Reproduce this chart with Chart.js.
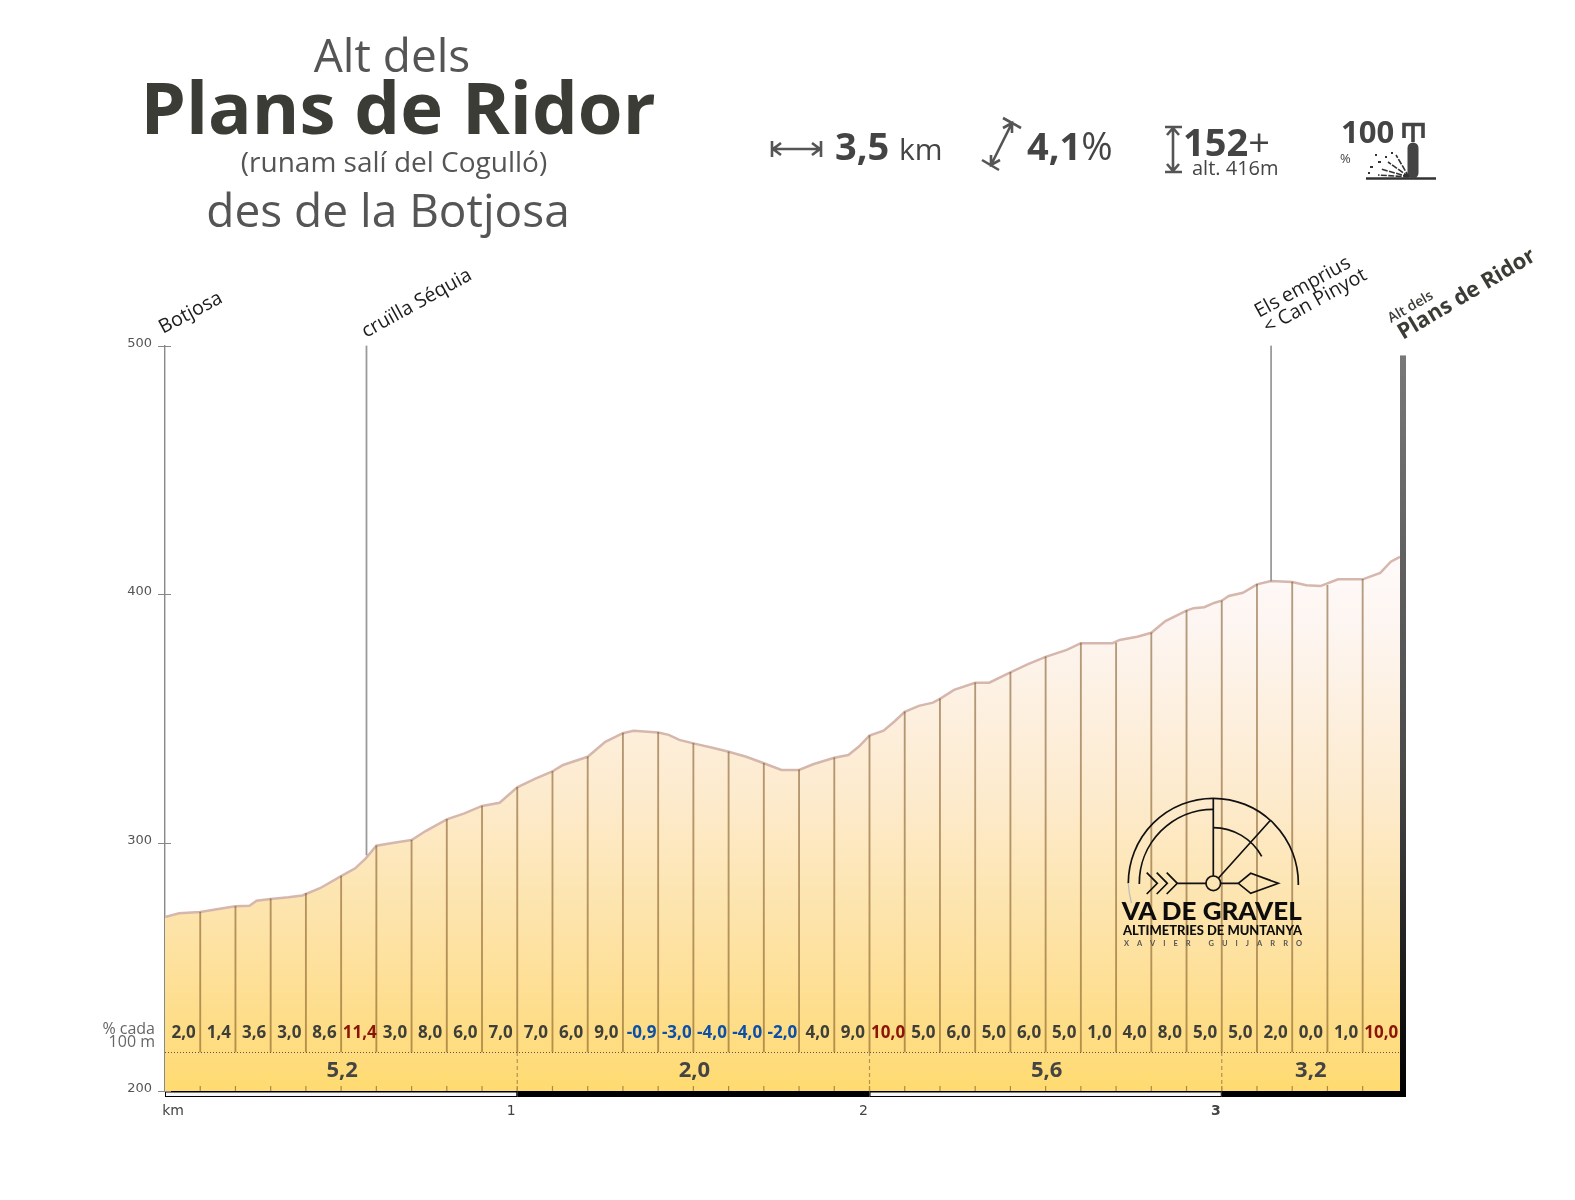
<!DOCTYPE html>
<html lang="ca">
<head>
<meta charset="utf-8">
<title>Alt dels Plans de Ridor</title>
<script src="https://cdn.jsdelivr.net/npm/chart.js@4/dist/chart.umd.min.js"></script>
<style>
    html, body { margin: 0; padding: 0; background: #fff; }
    #page { position: relative; width: 1575px; height: 1200px; overflow: hidden; }
    #profile { position: absolute; left: 0; top: 0; }
    #overlay { position: absolute; left: 0; top: 0; pointer-events: none; }
    #overlay text { font-family: "Open Sans", sans-serif; }
    .title { fill: #555; text-anchor: middle; }
    .strong { fill: #3c3c37; font-weight: 700; }
    .stat { fill: #444; }
    .place { fill: #1c1c1c; font-size: 19.7px; }
    .ico { stroke: #555; fill: none; stroke-width: 2.6; }
    .logo { stroke: #111; fill: none; stroke-width: 1.7; }
    #overlay .logotext { font-family: Lato, sans-serif; font-weight: 900; fill: #0d0d0d; }
</style>
</head>
<body>
<div id="page">
<canvas id="profile" width="1575" height="1200"></canvas>
<svg id="overlay" width="1575" height="1200" xmlns="http://www.w3.org/2000/svg">
    <!-- heading -->
    <text class="title" x="392" y="72" font-size="46">Alt dels</text>
    <text class="title strong" x="398" y="134" font-size="72.5">Plans de Ridor</text>
    <text class="title" x="394" y="172" font-size="28">(runam salí del Cogulló)</text>
    <text class="title" x="388" y="227" font-size="46">des de la Botjosa</text>

    <!-- distance -->
    <path class="ico" d="M772 141V157M821 141V157M773 149H820M781 143L773 149L781 155M812 143L820 149L812 155"/>
    <text class="stat strong" x="835" y="160" font-size="38">3,5</text>
    <text class="stat" x="899" y="160" font-size="30">km</text>
    <!-- gradient -->
    <path class="ico" d="M982 160L999 170M1003 118L1021 128M991 165L1012 123M991 155L991 165L1000 160M1003 128L1012 123L1012 133"/>
    <text class="stat strong" x="1027" y="160" font-size="38">4,1<tspan font-weight="400">%</tspan></text>
    <!-- climb -->
    <path class="ico" d="M1165 127H1182M1165 172H1182M1173 128V171M1167 135L1173 128L1179 135M1167 164L1173 171L1179 164"/>
    <text class="stat strong" x="1183" y="156" font-size="38">152<tspan font-weight="400">+</tspan></text>
    <text class="stat" x="1192" y="175" font-size="20">alt. 416m</text>
    <!-- surface -->
    <text class="stat strong" x="1341" y="143" font-size="31">100</text>
    <text class="stat" x="1340" y="163" font-size="13">%</text>
    <path d="M1366 178.5H1436" stroke="#333" stroke-width="2.4"/>
    <path d="M1413 173V148" stroke="#444" stroke-width="11" stroke-linecap="round"/>
    <path d="M1404 138V124.5H1423V138M1413 124V142" stroke="#444" stroke-width="3.6" fill="none"/>
    <path d="M1409 177L1396 155M1409 177L1388 162M1409 177L1381 169M1409 177L1378 175" stroke="#333" stroke-width="1.6" stroke-dasharray="6 1.4" fill="none"/>
    <path d="M1391 153h2M1385 157h2M1378 162h3M1370 167h3M1368 173h2M1375 155h2" stroke="#333" stroke-width="2.2"/>

    <!-- place names over the profile -->
    <text class="place" transform="translate(163,334) rotate(-28)">Botjosa</text>
    <text class="place" transform="translate(366,338) rotate(-29)">cruïlla Séquia</text>
    <text class="place" transform="translate(1259,318) rotate(-29)">Els emprius</text>
    <text class="place" transform="translate(1268,334) rotate(-29)">&lt; Can Pinyot</text>
    <text class="place" transform="translate(1391,323) rotate(-30)" style="font-size:14px;font-weight:600;fill:#3c3c37">Alt dels</text>
    <text class="place strong" transform="translate(1403,340) rotate(-31)" style="font-size:22px;font-weight:700;fill:#3c3c37">Plans de Ridor</text>

    <!-- % cada 100 m -->
    <text x="155" y="1034" font-size="16" fill="#666" text-anchor="end">% cada</text>
    <text x="155" y="1047" font-size="16" fill="#666" text-anchor="end">100 m</text>

    <!-- logo -->
    <path class="logo" d="M1298.3 885A85 85 0 0 0 1213.3 798.3A85 85 0 0 0 1128.3 883.3"/>
    <path d="M1128.3 883.3A85 85 0 0 0 1131.5 903" stroke="#bbb" fill="none" stroke-width="1.2"/>
    <path class="logo" d="M1139.3 884A74 74 0 0 1 1213.3 809.3M1213.3 827.6A55.7 55.7 0 0 1 1261.7 856.3"/>
    <path class="logo" d="M1213.3 798.3V876M1218.3 878.3L1270 820.7M1177.3 883.3H1206M1220.6 883.3H1238.3"/>
    <circle class="logo" cx="1213.3" cy="883.3" r="7.3"/>
    <path class="logo" d="M1238.3 883.3L1250.7 873.3L1278.3 883.3L1250.7 893.3Z"/>
    <path class="logo" d="M1146.7 872.6L1157.3 883.3L1146.7 894M1156.7 872.6L1167.3 883.3L1156.7 894M1166.7 872.6L1177.3 883.3L1166.7 894"/>
    <text class="logotext" x="1121.7" y="920" font-size="25" textLength="180" lengthAdjust="spacingAndGlyphs">VA DE GRAVEL</text>
    <text class="logotext" x="1123" y="935" font-size="13" textLength="179" lengthAdjust="spacingAndGlyphs">ALTIMETRIES DE MUNTANYA</text>
    <text class="logotext" x="1124" y="945.5" font-size="7.5" textLength="178" style="font-weight:700;fill:#555">XAVIER GUIJARRO</text>
</svg>
</div>

<script>
// Elevation profile: km and metres
const profileKm = [0.00, 0.04, 0.10, 0.16, 0.20, 0.24, 0.26, 0.30, 0.35, 0.39, 0.44, 0.50, 0.54, 0.57, 0.60, 0.65, 0.70, 0.74, 0.80, 0.85, 0.90, 0.95, 1.00, 1.05, 1.10, 1.13, 1.20, 1.25, 1.30, 1.33, 1.40, 1.43, 1.46, 1.50, 1.56, 1.60, 1.65, 1.70, 1.75, 1.80, 1.84, 1.90, 1.94, 1.97, 2.00, 2.04, 2.07, 2.10, 2.14, 2.18, 2.20, 2.24, 2.30, 2.34, 2.40, 2.45, 2.50, 2.56, 2.60, 2.69, 2.71, 2.76, 2.80, 2.84, 2.90, 2.92, 2.95, 2.98, 3.00, 3.02, 3.06, 3.10, 3.14, 3.20, 3.24, 3.28, 3.33, 3.40, 3.45, 3.48, 3.506];
const profileAlt = [270, 271.5, 272, 273.4, 274.3, 274.5, 276.6, 277.3, 278, 278.7, 281.6, 286.5, 289.6, 293.6, 298.7, 299.9, 301, 304.6, 309.3, 311.7, 314.7, 316, 322.2, 325.6, 328.6, 331.2, 334.5, 340.5, 344, 345, 344.3, 343.3, 341.3, 339.9, 337.9, 336.5, 334.5, 331.9, 329.2, 329.2, 331.5, 334.1, 335.2, 338.6, 343, 345, 348.6, 352.6, 355, 356.3, 357.8, 361.4, 364.3, 364.3, 368.5, 371.8, 374.7, 377.5, 380.2, 380.2, 381.5, 382.8, 384.4, 389.1, 393.3, 394.3, 394.7, 396.5, 397.3, 399.2, 400.5, 403.9, 405.2, 404.8, 403.5, 403.2, 405.9, 405.9, 408.5, 413, 415];

// The thin verticals every 100 m and the height where they meet the profile
const cutKm = [0.1, 0.2, 0.3, 0.4, 0.5, 0.6, 0.7, 0.8, 0.9, 1.0, 1.1, 1.2, 1.3, 1.4, 1.5, 1.6, 1.7, 1.8, 1.9, 2.0, 2.1, 2.2, 2.3, 2.4, 2.5, 2.6, 2.7, 2.8, 2.9, 3.0, 3.1, 3.2, 3.3, 3.4];
const cutAlt = [272, 274.3, 277.3, 279.5, 286.5, 298.7, 301, 309.3, 314.7, 322.2, 328.6, 334.5, 344, 344.3, 339.9, 336.5, 331.9, 329.2, 334.1, 343, 352.6, 357.8, 364.3, 368.5, 374.7, 380.2, 380.2, 384.4, 393.3, 397.3, 403.9, 404.8, 403.5, 405.9];

// Slope of every 100 m stretch and of every km
const slopeEvery100 = [2.0, 1.4, 3.6, 3.0, 8.6, 11.4, 3.0, 8.0, 6.0, 7.0, 7.0, 6.0, 9.0, -0.9, -3.0, -4.0, -4.0, -2.0, 4.0, 9.0, 10.0, 5.0, 6.0, 5.0, 6.0, 5.0, 1.0, 4.0, 8.0, 5.0, 5.0, 2.0, 0.0, 1.0, 10.0];
const slopeKmCentre = [0.5, 1.5, 2.5, 3.25];
const slopeEveryKm = [5.2, 2.0, 5.6, 3.2];

// Places with a marker line up to the 500 m level
const markerKm = [0.572, 3.14];
const markerAlt = [295, 405.2];

const yTicks = [200, 300, 400, 500];
const xTickValues = [0.04, 1, 2, 3];
const xTickLabels = ['km', '1', '2', '3'];
const kmBreaks = [1, 2, 3];
const totalKm = 3.506;
const bandTopAlt = 215.7;   // top of the strip holding the km slopes
const poleTopAlt = 496;

function formatSlope(value) {
    return value.toFixed(1).replace('.', ',');
}

function slopeColor(value) {
    if (value < 0) return '#0b4fa8';
    if (value >= 10) return '#8a1408';
    return '#3f3f3a';
}

// Everything around the profile which the axes don't give us
const profileExtras = {
    id: 'profileExtras',
    afterDatasetsDraw(chart) {
        const ctx = chart.ctx;
        const x = chart.scales.x;
        const y = chart.scales.y;
        const base = y.getPixelForValue(200);
        const bandTop = y.getPixelForValue(bandTopAlt);
        ctx.save();

        // short ticks at the foot of the verticals
        ctx.strokeStyle = 'rgba(120, 80, 30, 0.6)';
        ctx.lineWidth = 1.2;
        cutKm.forEach((km) => {
            ctx.beginPath();
            ctx.moveTo(x.getPixelForValue(km), base - 5);
            ctx.lineTo(x.getPixelForValue(km), base);
            ctx.stroke();
        });

        // dashed km separators inside the strip
        ctx.strokeStyle = '#b2944e';
        ctx.setLineDash([4, 3]);
        kmBreaks.forEach((km) => {
            ctx.beginPath();
            ctx.moveTo(x.getPixelForValue(km), bandTop);
            ctx.lineTo(x.getPixelForValue(km), base);
            ctx.stroke();
        });

        // dotted top of the strip
        ctx.strokeStyle = '#555';
        ctx.lineWidth = 1;
        ctx.setLineDash([1, 2]);
        ctx.beginPath();
        ctx.moveTo(x.left, bandTop + 0.5);
        ctx.lineTo(x.right, bandTop + 0.5);
        ctx.stroke();
        ctx.setLineDash([]);

        // slope figures
        ctx.textAlign = 'center';
        ctx.textBaseline = 'alphabetic';
        ctx.font = 'bold 17px "Open Sans"';
        slopeEvery100.forEach((value, i) => {
            ctx.fillStyle = slopeColor(value);
            ctx.fillText(formatSlope(value), x.getPixelForValue((i + 0.5) / 10) + 1, base - 53);
        });
        ctx.font = 'bold 22px "Open Sans"';
        ctx.fillStyle = '#444';
        slopeEveryKm.forEach((value, i) => {
            ctx.fillText(formatSlope(value), x.getPixelForValue(slopeKmCentre[i]) + 1, base - 14);
        });

        // km scale bar, white and black in turn
        const stops = [0].concat(kmBreaks, [totalKm]);
        for (let i = 0; i < stops.length - 1; i++) {
            const from = x.getPixelForValue(stops[i]);
            const to = x.getPixelForValue(stops[i + 1]);
            ctx.fillStyle = '#000';
            ctx.fillRect(from, base, to - from, 6);
            if (i % 2 === 0) {
                ctx.fillStyle = '#f7f7f7';
                ctx.fillRect(from + 1, base + 1.5, to - from - 2, 3.5);
            }
        }

        // the thick pole at the summit
        const poleTop = y.getPixelForValue(poleTopAlt);
        const pole = ctx.createLinearGradient(0, poleTop, 0, base + 6);
        pole.addColorStop(0, '#787878');
        pole.addColorStop(0.55, '#4a4a4a');
        pole.addColorStop(1, '#000');
        ctx.fillStyle = pole;
        ctx.fillRect(x.right, poleTop, 6, base + 6 - poleTop);

        // y tick marks go through the axis
        ctx.strokeStyle = '#888';
        ctx.lineWidth = 1;
        yTicks.forEach((alt) => {
            const py = Math.round(y.getPixelForValue(alt)) + 0.5;
            ctx.beginPath();
            ctx.moveTo(x.left - 7, py);
            ctx.lineTo(x.left + 6, py);
            ctx.stroke();
        });
        ctx.restore();
    }
};

// Same colour ramp as the original, pale at the top and yellow at the foot
function areaGradient(context) {
    const chart = context.chart;
    if (!chart.chartArea) return '#fde3a7';
    const y = chart.scales.y;
    const g = chart.ctx.createLinearGradient(0, y.getPixelForValue(420), 0, y.getPixelForValue(200));
    g.addColorStop(0, '#fffbfb');
    g.addColorStop(0.15, '#fdf5f1');
    g.addColorStop(0.45, '#fdebcf');
    g.addColorStop(0.7, '#fde3a8');
    g.addColorStop(0.88, '#fedd88');
    g.addColorStop(1, '#ffdb70');
    return g;
}

new Chart(document.getElementById('profile').getContext('2d'), {
    type: 'line',
    plugins: [profileExtras],
    data: {
        datasets: [
            {
                type: 'bar',
                order: 0,
                data: cutKm.map((km, i) => ({ x: km, y: [bandTopAlt, cutAlt[i]] })),
                backgroundColor: 'rgba(120, 80, 30, 0.55)',
                barThickness: 1.2,
                grouped: false
            },
            {
                type: 'bar',
                order: 0,
                data: markerKm.map((km, i) => ({ x: km, y: [markerAlt[i], 500] })),
                backgroundColor: '#999',
                barThickness: 1.1,
                grouped: false
            },
            {
                type: 'line',
                order: 1,
                data: profileKm.map((km, i) => ({ x: km, y: profileAlt[i] })),
                borderColor: '#d5b7ad',
                borderWidth: 2.5,
                backgroundColor: areaGradient,
                fill: 'start',
                pointRadius: 0,
                tension: 0
            }
        ]
    },
    options: {
        responsive: false,
        animation: false,
        layout: { padding: { top: 345.5, right: 175, bottom: 0, left: 0 } },
        plugins: { legend: { display: false }, tooltip: { enabled: false } },
        scales: {
            x: {
                type: 'linear',
                offset: false,
                min: 0,
                max: totalKm,
                grid: { display: false },
                border: { display: false },
                afterBuildTicks: (scale) => { scale.ticks = xTickValues.map((v) => ({ value: v })); },
                afterFit: (scale) => { scale.height = 109; },
                ticks: {
                    autoSkip: false,
                    maxRotation: 0,
                    labelOffset: -6,
                    padding: 4,
                    color: '#444',
                    font: (c) => ({ family: 'DejaVu Sans', size: 14, weight: c.index === 3 ? 'bold' : 'normal' }),
                    callback: (value, index) => xTickLabels[index]
                }
            },
            y: {
                min: 200,
                max: 500,
                grid: { display: false, drawTicks: false },
                border: { display: true, color: '#888', width: 1.4 },
                afterBuildTicks: (scale) => { scale.ticks = yTicks.map((v) => ({ value: v })); },
                afterFit: (scale) => { scale.width = 165; },
                ticks: {
                    padding: 13,
                    labelOffset: -2,
                    color: '#555',
                    font: { family: 'DejaVu Sans', size: 13 }
                }
            }
        }
    }
});
</script>
</body>
</html>
